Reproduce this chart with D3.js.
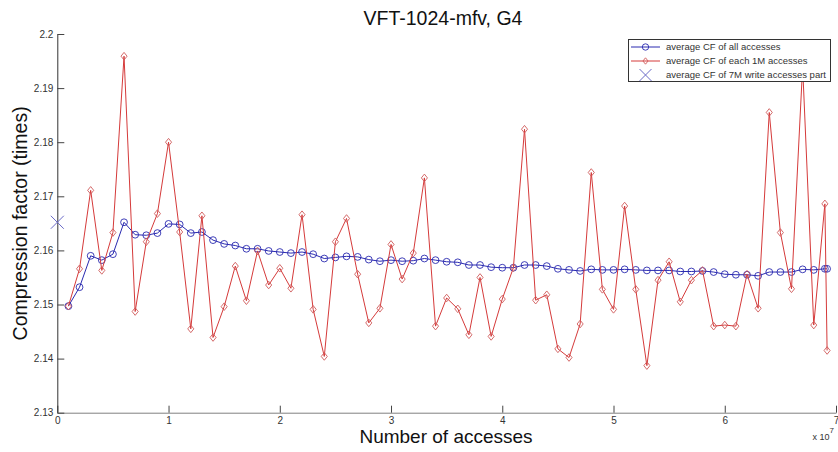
<!DOCTYPE html>
<html>
<head>
<meta charset="utf-8">
<script src="https://cdn.jsdelivr.net/npm/d3@7"></script>
<style>
  html, body { margin: 0; padding: 0; background: #fff; }
  svg { display: block; font-family: "Liberation Sans", Arial, sans-serif; }
</style>
</head>
<body>
<svg id="chart" width="838" height="452"></svg>
<script>
// Access counts at which the compression factor was sampled (every 1M accesses, plus the final count)
const accesses = [
  1e6, 2e6, 3e6, 4e6, 5e6, 6e6, 7e6, 8e6, 9e6, 10e6,
  11e6, 12e6, 13e6, 14e6, 15e6, 16e6, 17e6, 18e6, 19e6, 20e6,
  21e6, 22e6, 23e6, 24e6, 25e6, 26e6, 27e6, 28e6, 29e6, 30e6,
  31e6, 32e6, 33e6, 34e6, 35e6, 36e6, 37e6, 38e6, 39e6, 40e6,
  41e6, 42e6, 43e6, 44e6, 45e6, 46e6, 47e6, 48e6, 49e6, 50e6,
  51e6, 52e6, 53e6, 54e6, 55e6, 56e6, 57e6, 58e6, 59e6, 60e6,
  61e6, 62e6, 63e6, 64e6, 65e6, 66e6, 67e6, 68e6, 69e6, 69.2e6
];

// Running average CF over all accesses so far
const cfAll = [
  2.1497, 2.1532, 2.1590, 2.1582, 2.1593, 2.1652, 2.1629, 2.1628, 2.1632, 2.1649,
  2.1648, 2.1632, 2.1634, 2.1619, 2.1612, 2.1609, 2.1603, 2.1603, 2.1599, 2.1597,
  2.1595, 2.1597, 2.1593, 2.1585, 2.1587, 2.1589, 2.1588, 2.1583, 2.1580, 2.1582,
  2.1580, 2.1581, 2.1585, 2.1582, 2.1579, 2.1578, 2.1573, 2.1573, 2.1569, 2.1568,
  2.1568, 2.1573, 2.1573, 2.1571, 2.1566, 2.1564, 2.1562, 2.1565, 2.1564, 2.1564,
  2.1565, 2.1564, 2.1563, 2.1563, 2.1563, 2.1561, 2.1561, 2.1562, 2.1560, 2.1556,
  2.1555, 2.1555, 2.1553, 2.1560, 2.1560, 2.1560, 2.1565, 2.1564, 2.1566, 2.1566
];

// Average CF of each block of 1M accesses
const cfEach = [
  2.1497, 2.1566, 2.1711, 2.1563, 2.1633, 2.1959, 2.1487, 2.1616, 2.1668, 2.1800,
  2.1634, 2.1455, 2.1664, 2.1439, 2.1496, 2.1571, 2.1507, 2.1599, 2.1536, 2.1567,
  2.1530, 2.1666, 2.1491, 2.1404, 2.1616, 2.1659, 2.1556, 2.1466, 2.1493, 2.1611,
  2.1547, 2.1595, 2.1734, 2.1460, 2.1512, 2.1492, 2.1444, 2.1550, 2.1441, 2.1510,
  2.1568, 2.1824, 2.1508, 2.1518, 2.1418, 2.1402, 2.1464, 2.1744, 2.1528, 2.1491,
  2.1682, 2.1528, 2.1387, 2.1545, 2.1579, 2.1505, 2.1545, 2.1563, 2.1460, 2.1462,
  2.1460, 2.1556, 2.1493, 2.1855, 2.1633, 2.1529, 2.1940, 2.1462, 2.1686, 2.1415
];

// Average CF of the 7M write-access part (single point)
const writePart = { x: 0, y: 2.1652 };

const yTicks = [2.13, 2.14, 2.15, 2.16, 2.17, 2.18, 2.19, 2.2];
const xTicks = [0, 1e7, 2e7, 3e7, 4e7, 5e7, 6e7, 7e7];

const legendLabels = [
  "average CF of all accesses",
  "average CF of each 1M accesses",
  "average CF of 7M write accesses part"
];

const blue = "#2a2ab0";
const red = "#d53a3a";
const redMarker = "#cf5a5a";
const xMarker = "#6a6ac8";

const svg = d3.select("#chart");
const plotL = 57.3, plotR = 836, plotT = 34, plotB = 412.7;

const x = d3.scaleLinear().domain([0, 7e7]).range([plotL, plotR]);
const y = d3.scaleLinear().domain([2.13, 2.2]).range([plotB, plotT]);

// Axes (ticks point into the plot, MATLAB style)
const yAxis = d3.axisLeft(y).tickValues(yTicks)
  .tickFormat(d => String(+d.toFixed(2)))
  .tickSizeInner(-7).tickSizeOuter(0).tickPadding(4);
const xAxis = d3.axisBottom(x).tickValues(xTicks)
  .tickFormat(d => String(d / 1e7))
  .tickSizeInner(-7).tickSizeOuter(0).tickPadding(4);

const gx = svg.append("g").attr("transform", `translate(0,${plotB})`).call(xAxis);
gx.select(".domain").attr("stroke", "#808080");
gx.selectAll(".tick line").attr("stroke", "#444");
gx.selectAll("text").attr("font-size", 10).attr("fill", "#333")
  .attr("font-family", "Liberation Sans, Arial, sans-serif");

const gy = svg.append("g").attr("transform", `translate(${plotL},0)`).call(yAxis);
gy.select(".domain").attr("stroke", "#333");
gy.selectAll(".tick line").attr("stroke", "#444");
gy.selectAll("text").attr("font-size", 10).attr("fill", "#333")
  .attr("font-family", "Liberation Sans, Arial, sans-serif");

// Exponent label for the x axis
const expo = svg.append("text").attr("x", plotR - 2).attr("y", 440)
  .attr("text-anchor", "end").attr("font-size", 9).attr("fill", "#333");
expo.append("tspan").text("x 10");
expo.append("tspan").attr("dy", -7).attr("font-size", 8).text("7");

// Title and axis labels
svg.append("text").attr("x", 443).attr("y", 25).attr("text-anchor", "middle")
  .attr("font-size", 19.5).attr("fill", "#111").text("VFT-1024-mfv, G4");
svg.append("text").attr("x", 446).attr("y", 443).attr("text-anchor", "middle")
  .attr("font-size", 19).attr("fill", "#111").text("Number of accesses");
svg.append("text").attr("transform", `translate(27,${(plotT + plotB) / 2}) rotate(-90)`)
  .attr("text-anchor", "middle").attr("font-size", 19.5).attr("fill", "#111")
  .text("Compression factor (times)");

const line = d3.line().x(d => x(d[0])).y(d => y(d[1]));
const allPts = accesses.map((a, i) => [a, cfAll[i]]);
const eachPts = accesses.map((a, i) => [a, cfEach[i]]);

const diamond = (cx, cy, r) => `M${cx},${cy - r}L${cx + r * 0.8},${cy}L${cx},${cy + r}L${cx - r * 0.8},${cy}Z`;

// Running average: blue line with open circles
svg.append("path").datum(allPts).attr("d", line)
  .attr("fill", "none").attr("stroke", blue).attr("stroke-width", 1);
svg.append("g").selectAll("circle").data(allPts).join("circle")
  .attr("cx", d => x(d[0])).attr("cy", d => y(d[1])).attr("r", 3.4)
  .attr("fill", "none").attr("stroke", blue).attr("stroke-width", 0.9);

// Per-1M average: red line with open diamonds
svg.append("path").datum(eachPts).attr("d", line)
  .attr("fill", "none").attr("stroke", red).attr("stroke-width", 1);
svg.append("g").selectAll("path").data(eachPts).join("path")
  .attr("d", d => diamond(x(d[0]), y(d[1]), 3.8))
  .attr("fill", "none").attr("stroke", redMarker).attr("stroke-width", 0.9);

// Write-part marker
const cross = (cx, cy, s) => `M${cx - s},${cy - s}L${cx + s},${cy + s}M${cx - s},${cy + s}L${cx + s},${cy - s}`;
svg.append("path").attr("d", cross(x(writePart.x), y(writePart.y), 6.5))
  .attr("fill", "none").attr("stroke", xMarker).attr("stroke-width", 1);

// Legend
const lg = svg.append("g");
lg.append("rect").attr("x", 628.5).attr("y", 39.5).attr("width", 202).attr("height", 42)
  .attr("fill", "#fff").attr("stroke", "#333").attr("stroke-width", 1);
const rows = [47, 61, 75];
lg.append("line").attr("x1", 631).attr("x2", 660).attr("y1", rows[0]).attr("y2", rows[0])
  .attr("stroke", blue);
lg.append("circle").attr("cx", 645.5).attr("cy", rows[0]).attr("r", 3.2)
  .attr("fill", "none").attr("stroke", blue).attr("stroke-width", 0.9);
lg.append("line").attr("x1", 631).attr("x2", 660).attr("y1", rows[1]).attr("y2", rows[1])
  .attr("stroke", red);
lg.append("path").attr("d", diamond(645.5, rows[1], 3.2))
  .attr("fill", "none").attr("stroke", redMarker).attr("stroke-width", 0.9);
lg.append("path").attr("d", cross(645.5, rows[2], 6))
  .attr("fill", "none").attr("stroke", xMarker).attr("stroke-width", 1);
lg.selectAll("text.lab").data(legendLabels).join("text").attr("class", "lab")
  .attr("x", 666).attr("y", (d, i) => rows[i]).attr("dy", "0.35em")
  .attr("font-size", 9.5).attr("fill", "#333").text(d => d);
</script>
</body>
</html>
